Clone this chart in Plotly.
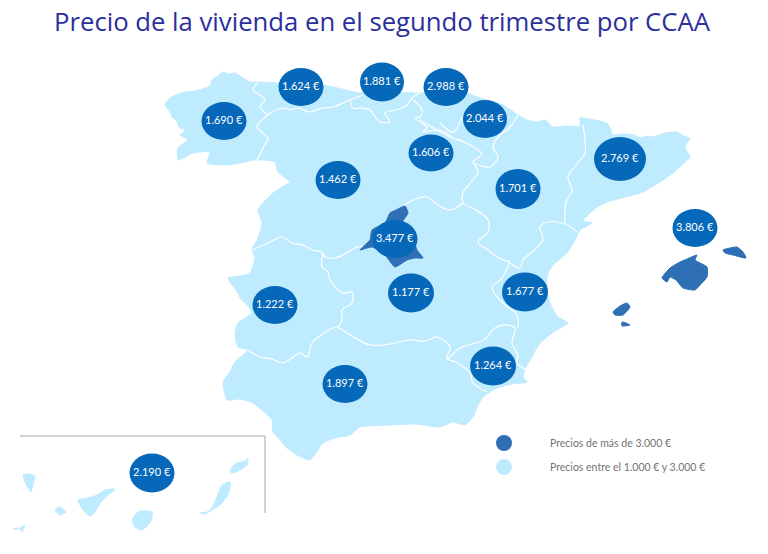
import plotly.graph_objects as go

LIGHT = "#bfebff"
DARK = "#2f6fb5"
BUBBLE = "#0668b8"

# precios por CCAA, posicion de cada burbuja sobre el mapa
ccaa = ["Galicia", "Asturias", "Cantabria", "Pais Vasco", "Navarra", "La Rioja",
        "Castilla y Leon", "Cataluna", "Aragon", "Madrid", "Baleares", "Extremadura",
        "Castilla-La Mancha", "C. Valenciana", "Murcia", "Andalucia", "Canarias"]
precios = ["1.690 €", "1.624 €", "1.881 €", "2.988 €", "2.044 €", "1.606 €",
           "1.462 €", "2.769 €", "1.701 €", "3.477 €", "3.806 €", "1.222 €",
           "1.177 €", "1.677 €", "1.264 €", "1.897 €", "2.190 €"]
bubble_x = [224, 301, 382, 446, 485, 431, 338, 620, 518, 395, 695, 275, 411, 525, 493, 345, 152]
bubble_y = [121, 87, 82, 87, 119, 153, 180, 159, 189, 239, 228, 305, 293, 292, 366, 384, 473]
bubble_rx = [22.5, 22.5, 22, 22.5, 22, 22.5, 22.5, 26, 22.5, 22.5, 22.5, 22.5, 23, 23, 23, 22.5, 22.5]
bubble_ry = [19, 19, 19.5, 19, 19, 18.5, 19, 22, 20, 19, 19, 19, 19.5, 19.5, 19.5, 19, 19.5]

# contorno de la peninsula
peninsula = [
    (165, 105), (170, 98), (178, 94), (185, 92), (196, 91), (205, 88), (210, 86), (212, 80), (218, 76),
    (223, 72), (229, 74), (235, 73), (243, 78), (250, 82), (260, 82), (278, 83), (300, 84), (323, 85),
    (342, 89), (360, 93), (385, 92), (417, 93), (430, 93), (450, 92), (467, 93), (477, 97),
    (487, 100), (503, 105), (518, 115), (527, 120), (537, 122), (545, 120), (553, 127), (566, 126), (580, 126),
    (580, 118), (594, 120), (607, 123), (610, 128), (613, 135), (620, 134), (627, 134), (634, 135), (640, 138),
    (647, 136), (653, 137), (665, 133), (677, 132), (684, 136), (690, 139), (685, 145), (686, 150),
    (690, 157), (682, 165), (673, 173), (660, 182), (643, 192), (625, 197), (607, 202), (597, 207), (590, 213),
    (583, 221), (592, 223), (585, 227), (580, 230), (575, 240), (567, 253), (560, 259), (553, 265), (549, 271),
    (547, 278), (547, 291), (550, 303), (557, 316), (568, 323), (555, 331), (540, 343), (536, 349), (532, 357),
    (526, 367), (523, 377), (527, 382), (512, 384), (497, 388), (483, 397), (478, 405), (473, 417),
    (465, 425), (453, 422), (440, 427), (415, 424), (390, 425), (360, 427), (350, 435), (335, 438), (323, 443),
    (310, 460), (297, 455), (287, 448), (280, 440), (273, 432), (272, 420), (262, 410), (253, 403), (240, 399),
    (227, 400), (224, 390), (223, 382), (230, 372), (235, 362), (248, 350), (238, 347), (235, 333), (238, 323),
    (252, 313), (247, 305), (240, 298), (238, 293), (228, 278), (240, 276), (250, 273), (255, 258), (252, 250),
    (258, 238), (262, 223), (258, 210), (264, 202), (273, 193), (282, 187), (290, 182), (278, 172), (275, 162),
    (262, 160), (253, 160), (240, 163), (227, 165), (207, 163), (210, 152), (193, 153), (178, 160), (178, 148),
    (188, 140), (180, 135), (186, 130), (180, 128), (176, 120), (172, 117), (170, 112),
]

# fronteras entre comunidades
fronteras = [
    [(257, 83), (253, 90), (258, 94), (265, 100), (260, 107), (267, 115), (262, 120), (257, 127), (263, 133),
     (268, 138), (263, 148), (257, 160)],
    [(267, 115), (283, 108), (290, 110), (297, 108), (310, 112), (322, 108), (333, 107), (350, 100), (363, 95)],
    [(350, 100), (353, 108), (362, 108), (370, 110), (376, 118), (380, 122), (390, 122), (385, 113), (396, 110),
     (407, 105), (412, 98), (420, 93)],
    [(413, 100), (422, 110), (420, 117), (415, 118), (427, 128), (423, 132), (440, 130), (453, 138)],
    [(420, 120), (437, 130), (453, 138), (462, 141), (470, 145), (482, 154), (473, 162), (482, 166), (490, 167),
     (498, 157), (493, 147), (500, 135), (507, 130), (513, 123), (518, 115)],
    [(462, 117), (453, 132), (440, 123)],
    [(473, 163), (478, 172), (470, 183), (463, 193), (463, 203), (476, 210), (488, 220), (488, 232), (478, 242),
     (488, 250), (497, 257), (510, 262)],
    [(252, 250), (268, 243), (282, 237), (292, 243), (303, 245), (312, 250), (322, 252), (325, 257), (335, 258),
     (343, 255), (357, 247), (372, 247)],
    [(403, 206), (415, 199), (427, 197), (438, 205), (450, 210), (463, 203)],
    [(323, 253), (322, 267), (328, 272), (330, 280), (343, 293), (352, 292), (352, 303), (342, 310), (342, 320),
     (338, 327)],
    [(248, 350), (260, 357), (272, 359), (283, 363), (292, 358), (300, 353), (307, 357), (312, 343), (324, 333),
     (335, 327), (338, 327)],
    [(338, 327), (352, 336), (370, 345), (390, 344), (410, 340), (425, 341), (437, 337), (450, 347), (447, 358),
     (457, 362)],
    [(447, 360), (460, 348), (472, 344), (484, 340), (495, 328), (507, 325), (515, 328), (512, 343), (518, 355),
     (517, 363), (527, 370)],
    [(456, 362), (470, 373), (473, 383), (487, 392)],
    [(510, 262), (502, 278), (492, 288), (503, 303), (517, 315), (518, 328)],
    [(510, 263), (520, 268), (523, 260), (533, 251), (543, 240), (540, 227), (548, 222), (565, 224), (577, 232)],
    [(583, 125), (585, 140), (585, 153), (576, 165), (568, 177), (572, 190), (566, 202), (565, 213), (565, 224)],
]

madrid = [(405, 206), (408, 213), (402, 223), (408, 230), (413, 237), (417, 250), (423, 258), (415, 258), (407, 260),
          (395, 267), (385, 255), (372, 247), (360, 250), (366, 244), (370, 240), (372, 230), (385, 223),
          (388, 217), (390, 213), (398, 209)]
baleares = [
    [(662, 278), (670, 268), (680, 262), (687, 259), (697, 255), (695, 260), (707, 267), (707, 277), (700, 285),
     (695, 290), (683, 288), (676, 280), (670, 277), (667, 282)],
    [(723, 250), (730, 248), (737, 247), (743, 252), (746, 258), (733, 255), (725, 253)],
    [(613, 312), (620, 306), (627, 303), (630, 307), (623, 315), (615, 315)],
    [(622, 322), (626, 323), (630, 325), (622, 326)],
]
canarias = [
    [(13, 529), (20, 528), (25, 525), (22, 532), (20, 529)],
    [(23, 475), (28, 474), (35, 476), (33, 484), (31, 492), (26, 484)],
    [(55, 510), (60, 507), (66, 512), (60, 515)],
    [(78, 500), (88, 498), (97, 495), (105, 490), (115, 489), (106, 497), (100, 503), (95, 512), (90, 516), (83, 510)],
    [(132, 520), (137, 513), (140, 511), (152, 512), (152, 518), (150, 523), (142, 530), (135, 527)],
    [(200, 513), (207, 512), (212, 508), (217, 497), (222, 485), (230, 482), (230, 488), (228, 495), (220, 505),
     (212, 510), (205, 514)],
    [(230, 472), (233, 466), (237, 463), (245, 461), (248, 458), (247, 465), (240, 470), (233, 473)],
]
marco_canarias = [(20, 436), (265, 436), (265, 513)]

leyenda = ["Precios de más de 3.000 €", "Precios entre el 1.000 € y 3.000 €"]
leyenda_colores = [DARK, LIGHT]
leyenda_y = [443, 467]


def _add_polygon(fig, points, color):
    fig.add_trace(go.Scatter(
        x=[p[0] for p in points] + [points[0][0]],
        y=[p[1] for p in points] + [points[0][1]],
        mode="lines",
        fill="toself",
        fillcolor=color,
        line=dict(color=color, width=1, shape="spline", smoothing=0.5),
        showlegend=False,
        hoverinfo="skip"
    ))


def _add_line(fig, points, color, width, shape="spline"):
    fig.add_trace(go.Scatter(
        x=[p[0] for p in points],
        y=[p[1] for p in points],
        mode="lines",
        line=dict(color=color, width=width, shape=shape),
        showlegend=False,
        hoverinfo="skip"
    ))


fig = go.Figure()

_add_polygon(fig, peninsula, LIGHT)
for isla in canarias:
    _add_polygon(fig, isla, LIGHT)
for linea in fronteras:
    _add_line(fig, linea, "white", 1.2)
_add_polygon(fig, madrid, DARK)
for isla in baleares:
    _add_polygon(fig, isla, DARK)
_add_line(fig, marco_canarias, "#a6a6a6", 1, shape="linear")

# burbujas elipticas con el precio
for x, y, rx, ry, precio in zip(bubble_x, bubble_y, bubble_rx, bubble_ry, precios):
    fig.add_shape(type="circle", xref="x", yref="y",
                  x0=x - rx, x1=x + rx, y0=y - ry, y1=y + ry,
                  fillcolor=BUBBLE, line=dict(width=0), layer="above")
    fig.add_annotation(x=x, y=y - 2, text=precio, showarrow=False,
                       font=dict(family="Lato", size=11, color="white"))

# leyenda
fig.add_trace(go.Scatter(
    x=[504, 504], y=leyenda_y, mode="markers",
    marker=dict(size=16, color=leyenda_colores),
    showlegend=False, hoverinfo="skip"
))
for texto, y in zip(leyenda, leyenda_y):
    fig.add_annotation(x=548, y=y, text=texto, showarrow=False, xanchor="left",
                       font=dict(family="Lato", size=10.5, color="#737373"))

fig.add_annotation(x=382, y=21, text="Precio de la vivienda en el segundo trimestre por CCAA",
                   showarrow=False, font=dict(family="Open Sans", size=25.7, color="#2b2f9e"))

fig.update_layout(
    width=768,
    height=554,
    margin=dict(l=0, r=0, t=0, b=0),
    paper_bgcolor="white",
    plot_bgcolor="white",
    showlegend=False,
    xaxis=dict(range=[0, 768], visible=False),
    yaxis=dict(range=[554, 0], visible=False),
)

fig.write_html("out.html", config=dict(displayModeBar=False),
               post_script="document.body.style.margin='0';")
